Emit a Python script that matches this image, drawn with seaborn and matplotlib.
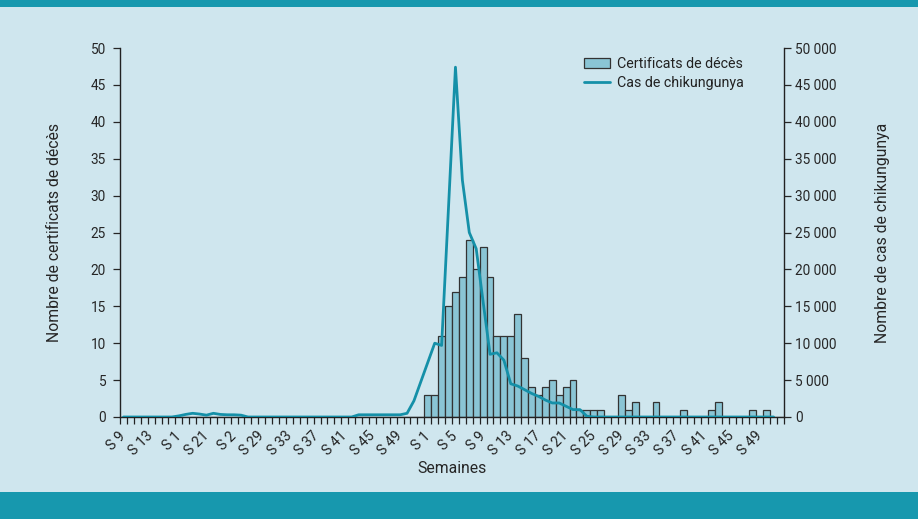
import matplotlib
matplotlib.use("Agg")
import matplotlib.pyplot as plt
from matplotlib.patches import Patch, Rectangle
from matplotlib.lines import Line2D
from matplotlib.ticker import FixedLocator, FuncFormatter
import matplotlib.transforms as mtransforms
import numpy as np
import pandas as pd
import seaborn as sns

# ---------------- data ----------------
# weekly index 0..95 : 2005 W9 ... 2005 W52, 2006 W1 ... 2006 W52
tick_labels = ["S 9", "S 13", "S 1", "S 21", "S 2", "S 29", "S 33", "S 37",
               "S 41", "S 45", "S 49", "S 1", "S 5", "S 9", "S 13", "S 17",
               "S 21", "S 25", "S 29", "S 33", "S 37", "S 41", "S 45", "S 49"]

deces = ([0] * 44 +
         [3, 3, 11, 15, 17, 19, 24, 20, 23, 19, 11, 11, 11, 14, 8, 4,
          3, 4, 5, 3, 4, 5, 1, 1, 1, 1, 0, 0, 3, 1, 2, 0, 0, 2, 0, 0,
          0, 1, 0, 0, 0, 1, 2, 0, 0, 0, 0, 1, 0, 1, 0, 0])

cas = ([0] * 8 +
       [150, 350, 500, 400, 250, 500, 350, 300, 300, 250] +
       [0] * 16 +
       [300, 300, 300, 300, 300, 300, 300, 500, 2200, 4800, 7400,
        10000, 9700, 28500, 47400, 32100, 25000, 22800, 15600, 8500,
        8700, 7700, 4500, 4200, 3700, 3200, 2800, 2300, 1900, 1900,
        1450, 1000, 1000, 100] +
       [0] * 27)

n_weeks = len(deces)
df_bar = pd.DataFrame({"idx": np.arange(n_weeks), "deces": deces})
df_line = pd.DataFrame({"idx": np.arange(len(cas)), "cas": cas})

# ---------------- style ----------------
BG = "#cfe6ee"
BAND = "#1798ae"
LINE = "#1590a8"
BAR = "#8ac5d5"
EDGE = "#333333"

sns.set_style("ticks")
plt.rcParams["font.family"] = ["Roboto", "DejaVu Sans"]
plt.rcParams["axes.edgecolor"] = "#222222"
plt.rcParams["text.color"] = "#222222"

fs = 9.8

fig = plt.figure(figsize=(9.18, 5.19), dpi=100, facecolor=BG)
ax = fig.add_axes([120 / 918, (519 - 417) / 519, 664 / 918, 369 / 519])
ax.set_facecolor(BG)

# bands
fig.patches.append(Rectangle((0, 1 - 7 / 519), 1, 7 / 519, transform=fig.transFigure,
                             facecolor=BAND, edgecolor="none", zorder=0))
fig.patches.append(Rectangle((0, 0), 1, 27 / 519, transform=fig.transFigure,
                             facecolor=BAND, edgecolor="none", zorder=0))

sns.barplot(data=df_bar, x="idx", y="deces", native_scale=True, width=1.0,
            color=BAR, edgecolor=EDGE, linewidth=0.9, saturation=1, ax=ax,
            zorder=2)

ax2 = ax.twinx()
sns.lineplot(data=df_line, x="idx", y="cas", color=LINE, linewidth=2.0, ax=ax2,
             zorder=3)

ax.set_xlim(-0.5, n_weeks - 0.5)
ax.set_ylim(0, 50)
ax2.set_ylim(0, 50000)

ax.set_yticks(np.arange(0, 51, 5))
ax2.set_yticks(np.arange(0, 50001, 5000))
ax2.yaxis.set_major_formatter(FuncFormatter(lambda v, p: f"{int(v):,}".replace(",", " ")))

major_pos = np.arange(0, n_weeks, 4)[:len(tick_labels)]
ax.set_xticks(major_pos)
ax.tick_params(axis="x", which="major", length=0, pad=6)
ax.xaxis.set_minor_locator(FixedLocator(np.arange(-0.5, n_weeks, 1)))
ax.tick_params(axis="x", which="minor", length=5, width=0.9, direction="out",
               color="#222222")
ax.tick_params(axis="y", length=5, width=0.9, labelsize=fs, pad=5)
ax2.tick_params(axis="y", length=5, width=0.9, labelsize=fs, pad=3)

for a in (ax, ax2):
    a.spines["top"].set_visible(False)
    a.spines["left"].set_linewidth(1.0)
    a.spines["right"].set_linewidth(1.0)
    a.spines["bottom"].set_linewidth(1.0)
ax.spines["right"].set_visible(False)
ax2.spines["left"].set_visible(False)
ax2.spines["bottom"].set_visible(False)

ax.set_xlabel("Semaines", fontsize=fs + 1.5)
ax.xaxis.set_label_coords(0.5, -0.118)
ax.set_ylabel("Nombre de certificats de décès", fontsize=fs + 1.5, labelpad=21)
ax2.set_ylabel("Nombre de cas de chikungunya", fontsize=fs + 1.5, labelpad=28)

ax2.patch.set_visible(False)

handles = [Patch(facecolor=BAR, edgecolor=EDGE, linewidth=0.9),
           Line2D([0], [0], color=LINE, linewidth=2.0)]
ax2.legend(handles, ["Certificats de décès", "Cas de chikungunya"],
           loc="upper left", bbox_to_anchor=(0.69, 0.99), frameon=False,
           fontsize=fs + 0.5, handlelength=1.8, handletextpad=0.5,
           labelspacing=0.3, borderaxespad=0)

# x tick labels drawn as rotated text just left of each week centre
ax.set_xticklabels([])
shift = mtransforms.ScaledTranslation(-5 / 100, -12 / 100, fig.dpi_scale_trans)
lab_trans = ax.get_xaxis_transform() + shift
for pos, lab in zip(major_pos, tick_labels):
    ax.text(pos, 0, lab, transform=lab_trans, rotation=45, ha="right", va="top",
            rotation_mode="anchor", fontsize=fs + 0.4, color="#222222")

fig.savefig("out.png", dpi=100, facecolor=BG)
